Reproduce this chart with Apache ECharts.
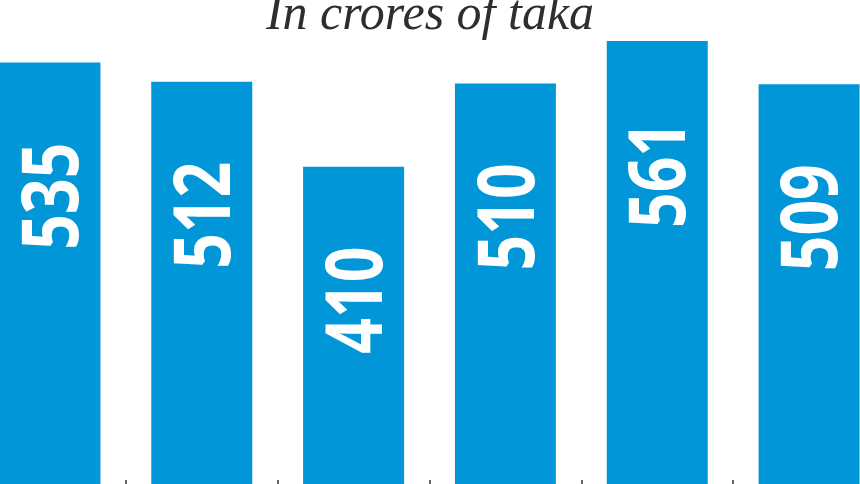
<!DOCTYPE html>
<html>
<head>
<meta charset="utf-8">
<script src="https://cdn.jsdelivr.net/npm/echarts@6/dist/echarts.min.js"></script>
<style>html,body{margin:0;padding:0;background:#fff;}#c{width:860px;height:484px;}</style>
</head>
<body>
<div id="c"></div>
<script>
const titleText = 'In crores of taka';
const categories = ['1', '2', '3', '4', '5', '6'];
const values = [535, 512, 410, 510, 561, 509];

const chart = echarts.init(document.getElementById('c'), null, {renderer: 'canvas'});
chart.setOption({
  animation: false,
  backgroundColor: '#ffffff',
  title: {
    text: titleText,
    left: 'center',
    top: -14,
    textStyle: {
      fontFamily: 'Liberation Serif',
      fontStyle: 'italic',
      fontWeight: 'normal',
      fontSize: 50,
      color: '#2e2e2e'
    }
  },
  grid: {left: -26, right: -25, top: 8.5, bottom: -24, containLabel: false, outerBoundsMode: 'none'},
  xAxis: {
    type: 'category',
    data: categories,
    axisLine: {show: false},
    axisLabel: {show: false},
    axisTick: {show: true, inside: true, length: 28, lineStyle: {color: '#333333', width: 1.5}},
    splitLine: {show: false}
  },
  yAxis: {
    type: 'value',
    min: 0,
    max: 600,
    show: false,
    splitLine: {show: false}
  },
  series: [{
    type: 'bar',
    data: values,
    barWidth: 101,
    itemStyle: {color: '#0096d7'}
  }, {
    type: 'custom',
    data: values.map((v, i) => [i, v]),
    encode: {x: 0, y: 1},
    z: 5,
    renderItem: function (params, api) {
      const pt = api.coord([api.value(0), api.value(1)]);
      return {
        type: 'text',
        x: pt[0] + 6,
        y: pt[1] + 80,
        rotation: Math.PI / 2,
        scaleX: 0.8,
        style: {
          text: String(api.value(1)),
          fill: '#ffffff',
          fontFamily: 'Open Sans',
          fontWeight: 'bold',
          fontSize: 78,
          align: 'right',
          verticalAlign: 'middle'
        }
      };
    }
  }]
});
</script>
</body>
</html>
